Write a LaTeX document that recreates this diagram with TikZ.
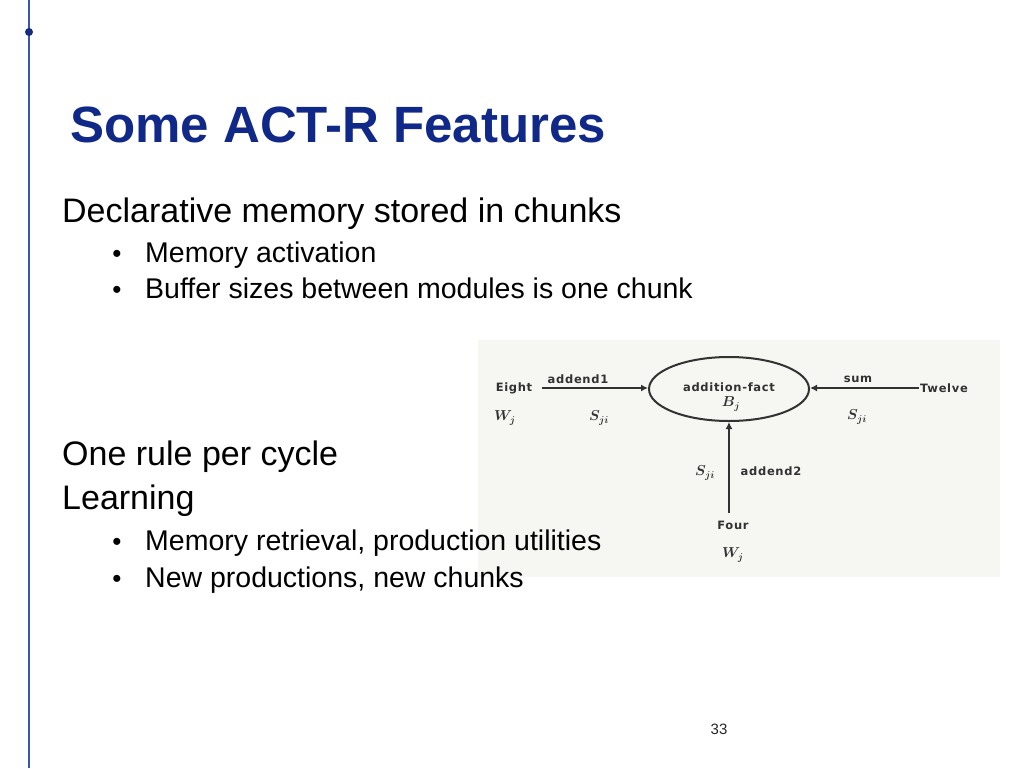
\documentclass[tikz,border=0pt]{standalone}
\usepackage{fontspec}
\usepackage{amsmath}
\setmainfont{Liberation Sans}
\newfontfamily\dfont[LetterSpace=6]{DejaVu Sans}
\usetikzlibrary{shapes.geometric,arrows.meta}
\definecolor{titleblue}{RGB}{16,40,135}
\definecolor{rulecol}{RGB}{55,85,180}
\definecolor{dotcol}{RGB}{20,45,130}
\definecolor{dgray}{RGB}{50,50,50}
\definecolor{diagbg}{RGB}{246,246,243}
\tikzset{
  title/.style={anchor=base west, inner sep=0pt, text=titleblue, font=\fontsize{51}{60}\selectfont\bfseries},
  lvlone/.style={anchor=base west, inner sep=0pt, font=\fontsize{34}{40}\selectfont},
  lvltwo/.style={anchor=base west, inner sep=0pt, font=\fontsize{28.5}{34}\selectfont},
  bul/.style={anchor=base, inner sep=0pt, font=\fontsize{26}{30}\selectfont},
  dtext/.style={inner sep=0pt, text=dgray, font=\dfont\bfseries\fontsize{11.5}{13}\selectfont},
  dmath/.style={inner sep=0pt, text=dgray, font=\fontsize{14}{16}\selectfont\boldmath},
  arr/.style={draw=dgray, line width=2pt, -{Latex[length=7pt,width=7pt]}},
  pnum/.style={anchor=base, inner sep=0pt, font=\fontsize{15}{18}\selectfont, text=black!85}
}
\begin{document}
\begin{tikzpicture}[x=1pt,y=-1pt]
\useasboundingbox (0,0) rectangle (1024,768);
\fill[white] (0,0) rectangle (1024,768);
% left rule with dot
\draw[rulecol, line width=1.8pt] (29,0) -- (29,768);
\fill[dotcol] (29,32) circle (4pt);
% title
\node[title] (t) at (70,142) {Some ACT-R Features};
% text
\node[lvlone] (l1) at (62,222) {Declarative memory stored in chunks};
\node[bul] (b1) at (117,262) {•};
\node[lvltwo] (l2) at (145,262) {Memory activation};
\node[bul] (b2) at (117,298) {•};
\node[lvltwo] (l3) at (145,298) {Buffer sizes between modules is one chunk};
% diagram background
\fill[diagbg] (478,340) rectangle (1000,577);
\node[lvlone] (l4) at (62,465) {One rule per cycle};
\node[lvlone] (l5) at (62,509) {Learning};
\node[bul] (b3) at (117,550) {•};
\node[lvltwo] (l6) at (145,550) {Memory retrieval, production utilities};
\node[bul] (b4) at (117,587) {•};
\node[lvltwo] (l7) at (145,587) {New productions, new chunks};
% diagram
\node[draw=dgray, line width=2pt, ellipse, minimum width=160pt, minimum height=64pt, inner sep=0pt] (ell) at (729,389) {};
\node[dtext] (af) at (729,387) {addition-fact};
\node[dmath] (bj) at (731,404) {$B_j$};
\node[dtext] (eight) at (514,388) {Eight};
\node[dtext] (twelve) at (944,388) {Twelve};
\node[dtext] (four) at (733,525) {Four};
\node[dmath] (w1) at (505,418) {$W_j$};
\node[dmath] (w2) at (733,555) {$W_j$};
\node[dtext] (ad1) at (578,379) {addend1};
\node[dtext] (sum) at (858,379) {sum};
\node[dtext] (ad2) at (771,471) {addend2};
\node[dmath] (s1) at (599,418) {$S_{ji}$};
\node[dmath] (s2) at (857,417) {$S_{ji}$};
\node[dmath] (s3) at (705,473) {$S_{ji}$};
\draw[arr] ([xshift=10pt]eight.east) -- (eight.east -| ell.west);
\draw[arr] ([xshift=-1pt]twelve.west) -- (twelve.west -| ell.east);
\draw[arr] ([yshift=8pt]ell.south |- four.north) -- (ell.south);
% page number
\node[pnum] (pn) at (719,734) {33};
\end{tikzpicture}
\end{document}
